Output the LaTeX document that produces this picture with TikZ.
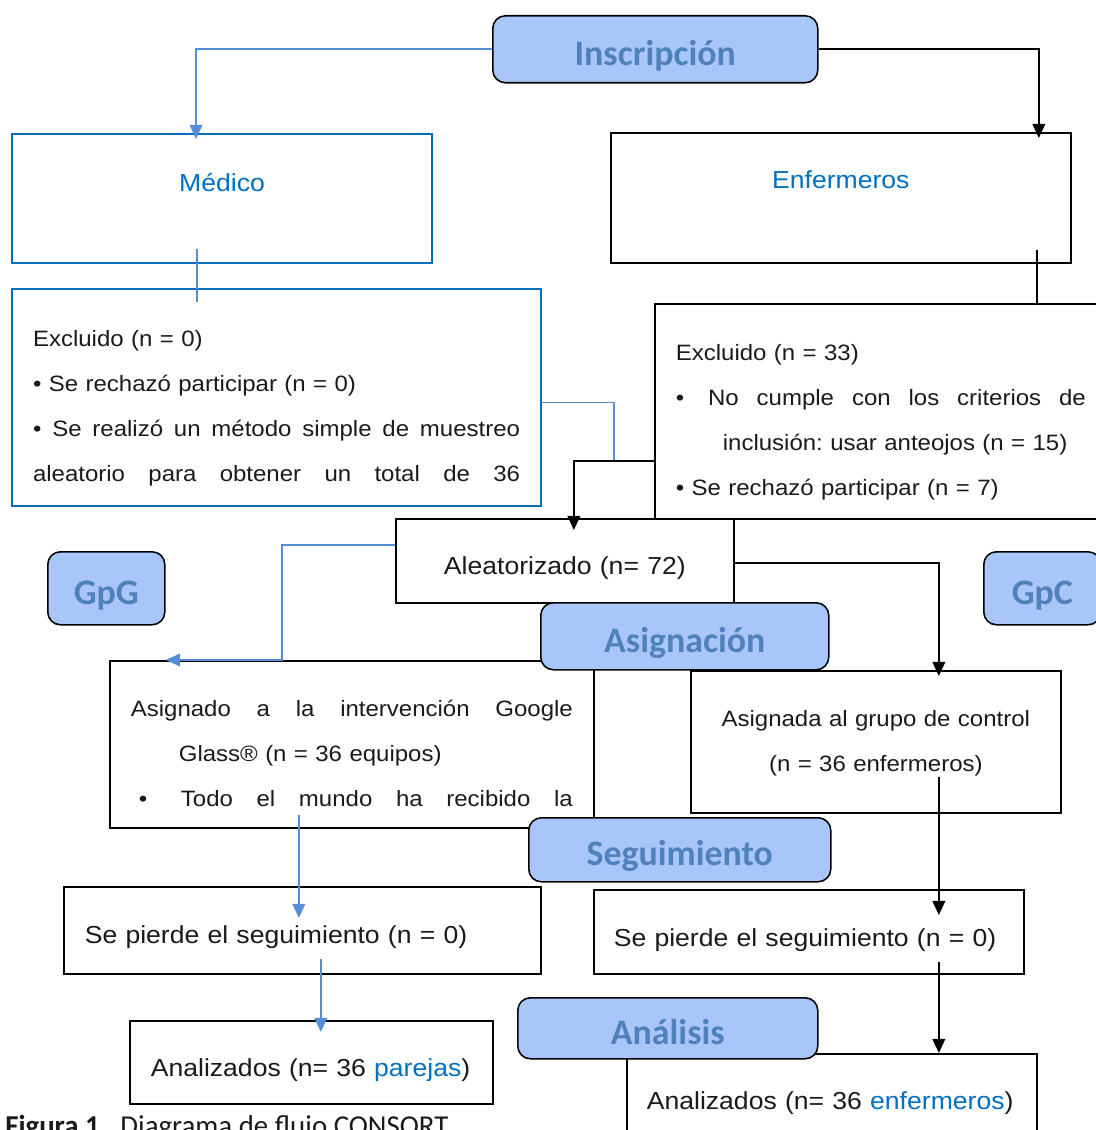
\documentclass[tikz,border=0pt]{standalone}
\usepackage{fontspec}
\setmainfont[FakeStretch=1.08]{Liberation Sans}
\newfontfamily\calibri{Carlito}
\usetikzlibrary{arrows.meta}
\definecolor{hdrfill}{RGB}{168,198,250}
\definecolor{hdrtext}{RGB}{79,129,189}
\definecolor{medblue}{RGB}{0,112,192}
\definecolor{lnblue}{RGB}{85,142,213}
\definecolor{ink}{RGB}{26,26,26}
\newlength\pxu
\setlength\pxu{0.025cm}
\newcommand\jl[2]{\makebox[#1\pxu][s]{\spaceskip=0.28em plus 1fil\relax#2}}
\newcommand\txs{\fontsize{15.8}{32}\selectfont}
\newcommand\txl{\fontsize{17.5}{21}\selectfont}
\frenchspacing

\begin{document}
\begin{tikzpicture}[x=0.025cm, y=-0.025cm,
				box/.style={draw=black, line width=1.2pt, anchor=north west, inner ysep=0pt, text=ink, font=\txs},
				medbox/.style={box, draw=medblue, line width=1.5pt},
				hdr/.style={draw=black, line width=1.1pt, rounded corners=9pt, fill=hdrfill, anchor=north west, inner sep=0pt,
					text=hdrtext, font=\calibri\bfseries\fontsize{25.5}{30}\selectfont, text height=32\pxu, text depth=0pt},
				sz/.style 2 args={minimum width=#1\pxu, minimum height=#2\pxu},
				tw/.style={text width=#1\pxu},
				bl/.style 2 args={text height=#1\pxu, text depth=#2\pxu},
				arrow/.style={-{Triangle[length=10pt, width=9pt]}, line width=1.3pt, draw=black},
				barrow/.style={-{Triangle[length=10pt, width=9pt]}, line width=1.1pt, draw=lnblue},
				bline/.style={draw=lnblue, line width=1.1pt},
				kline/.style={draw=black, line width=1.3pt}]
				
				\useasboundingbox (0,0) rectangle (1096,1130);
				\clip (0,0) rectangle (1096,1130);
				
				\node[medbox, sz={420}{129}, tw=378, inner xsep=21\pxu, align=center, text=medblue, font=\txl, bl={0}{15}] (medico) at (11,133) {Médico};
				\node[box, sz={460}{130}, tw=420, inner xsep=20\pxu, align=center, text=medblue, font=\txl, bl={0}{18}] (enf) at (610,132) {Enfermeros};
				
				\node[medbox, sz={529}{217}, tw=487, inner xsep=21\pxu, align=left, bl={0}{103}] (excm) at (11,288)
					{Excluido (n = 0)\\ • Se rechazó participar (n = 0)\\ \jl{487}{• Se realizó un método simple de muestreo}\\ \jl{487}{aleatorio para obtener un total de 36}};
				\node[box, sz={452}{215}, tw=410, inner xsep=21\pxu, align=left, bl={0}{101}] (excn) at (654,303)
					{Excluido (n = 33)\\ \jl{410}{•\hspace{6\pxu} No cumple con los criterios de}\\ \hspace*{47\pxu}inclusión: usar anteojos (n = 15)\\ • Se rechazó participar (n = 7)};
				
				\node[box, sz={338}{84}, tw=298, inner xsep=20\pxu, align=center, font=\txl, bl={28}{0}] (alea) at (395,518) {Aleatorizado (n= 72)};
				
				\node[box, sz={484}{167}, tw=442, inner xsep=21\pxu, align=left, bl={0}{55}] (asgg) at (109,660)
					{\jl{442}{Asignado a la intervención Google}\\ \hspace*{48\pxu}Glass® (n = 36 equipos)\\ \jl{442}{\hspace*{8\pxu}•\hspace{10\pxu} Todo el mundo ha recibido la}};
				\node[box, sz={370}{142}, tw=330, inner xsep=20\pxu, align=center, bl={0}{30}] (asgc) at (690,670)
					{Asignada al grupo de control\\ (n = 36 enfermeros)};
				
				\node[box, sz={477}{87}, tw=435, inner xsep=21\pxu, align=left, font=\txl, bl={27}{0}] (perg) at (63,886) {Se pierde el seguimiento (n = 0)};
				\node[box, sz={430}{84}, tw=390, inner xsep=20\pxu, align=left, font=\txl, bl={30}{0}] (perc) at (593,889) {Se pierde el seguimiento (n = 0)};
				
				\node[box, sz={363}{83}, tw=321, inner xsep=21\pxu, align=left, font=\txl, bl={29}{0}] (anag) at (129,1020) {Analizados (n= 36 \textcolor{medblue}{parejas})};
				\node[box, sz={410}{97}, tw=370, inner xsep=20\pxu, align=left, font=\txl, bl={15}{0}] (anac) at (626,1053) {Analizados (n= 36 \textcolor{medblue}{enfermeros})};
				
				\node[hdr, sz={325}{67}] (insc) at (492,15) {Inscripción};
				\node[hdr, sz={117}{73}] (gpg) at (47,551) {GpG};
				\node[hdr, sz={117}{73}] (gpc) at (983,551) {GpC};
				\node[hdr, sz={288}{67}] (asig) at (540,602) {Asignación};
				\node[hdr, sz={302}{64}] (segu) at (528,817) {Seguimiento};
				\node[hdr, sz={300}{61}] (anal) at (517,997) {Análisis};
				
				\node[anchor=base west, inner sep=0pt, text=ink, font=\calibri\fontsize{20.5}{24}\selectfont] (cap) at (5,1135)
					{\textbf{Figura 1.}\ \ Diagrama de flujo CONSORT};
				
				\coordinate (m1) at ([xshift=-25\pxu]medico.south);
				\coordinate (m2) at (m1 |- excm.north);
				\coordinate (e1) at ([xshift=196\pxu]enf.south);
				\coordinate (e2) at (e1 |- excn.north);
				\coordinate (j1) at (614,461);
				\coordinate (b1) at (282,660);
				
				\draw[barrow] (insc.west) -| ([xshift=-26\pxu,yshift=-6\pxu]medico.north);
				\draw[arrow] (insc.east) -| ([xshift=198\pxu,yshift=-6\pxu]enf.north);
				\draw[bline] ([yshift=15\pxu]m1) -- ([yshift=-14\pxu]m2);
				\draw[kline] ([yshift=14\pxu]e1) -- (e2);
				
				\draw[bline] ([yshift=-5\pxu]excm.east) -| (j1);
				\draw[arrow] ([yshift=-50\pxu]excn.west) -| ([xshift=9\pxu,yshift=-12\pxu]alea.north);
				
				\draw[barrow] ([yshift=16\pxu]alea.west) -| (b1) -- ([xshift=-186\pxu]asgg.north);
				\draw[arrow] ([yshift=-2\pxu]alea.east) -| ([xshift=63\pxu,yshift=-6\pxu]asgc.north);
				
				\draw[barrow] ([xshift=-53\pxu,yshift=14\pxu]asgg.south) -- ([xshift=-3.5\pxu,yshift=-32\pxu]perg.north);
				\draw[arrow] ([xshift=63\pxu,yshift=37\pxu]asgc.south) -- ([xshift=130\pxu,yshift=-26\pxu]perc.north);
				
				\draw[barrow] ([xshift=18.5\pxu,yshift=16\pxu]perg.south) -- ([xshift=9.5\pxu,yshift=-12\pxu]anag.north);
				\draw[arrow] ([xshift=130\pxu,yshift=13\pxu]perc.south) -- ([xshift=107\pxu]anac.north);
			\end{tikzpicture}
\end{document}
